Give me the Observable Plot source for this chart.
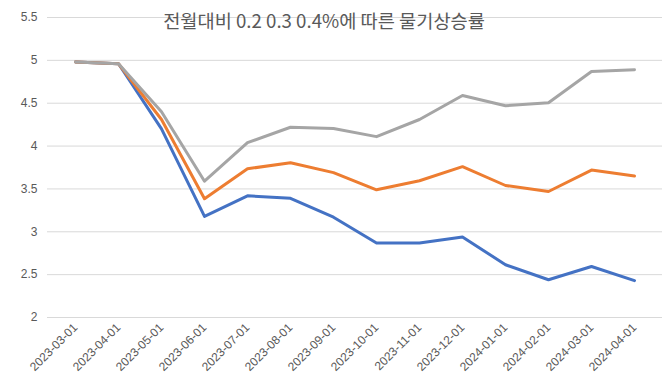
<!DOCTYPE html>
<html><head><meta charset="utf-8">
<script src="https://cdn.jsdelivr.net/npm/d3@7"></script>
<script src="https://cdn.jsdelivr.net/npm/@observablehq/plot@0.6"></script>
<style>body{margin:0;background:#fff;}</style>
</head><body><div id="chart"></div>
<script>
const title = "전월대비 0.2 0.3 0.4%에 따른 물기상승률";
const dates = ["2023-03-01","2023-04-01","2023-05-01","2023-06-01","2023-07-01","2023-08-01","2023-09-01","2023-10-01","2023-11-01","2023-12-01","2024-01-01","2024-02-01","2024-03-01","2024-04-01"];
const seriesNames = ["0.2%","0.3%","0.4%"];
const rate02 = [4.98,4.96,4.20,3.18,3.42,3.39,3.17,2.87,2.87,2.94,2.615,2.44,2.595,2.43];
const rate03 = [4.98,4.96,4.31,3.385,3.735,3.805,3.69,3.49,3.595,3.76,3.54,3.47,3.72,3.65];
const rate04 = [4.98,4.96,4.40,3.59,4.04,4.22,4.205,4.11,4.31,4.59,4.47,4.505,4.87,4.89];
const seriesColors = ["#4472C4","#ED7D31","#A5A5A5"];
const yTicks = [2,2.5,3,3.5,4,4.5,5,5.5];

const rows = [];
[rate02, rate03, rate04].forEach((arr, s) => arr.forEach((v, i) => rows.push({date: dates[i], value: v, series: seriesNames[s]})));

const chart = Plot.plot({
  width: 663, height: 384,
  marginLeft: 47, marginRight: 1, marginTop: 17, marginBottom: 67,
  style: {fontFamily: "'Liberation Sans', sans-serif", fontSize: "12px", color: "#595959", background: "#fff"},
  x: {type: "point", domain: dates, padding: 0.5, label: null},
  y: {domain: [2, 5.5], label: null},
  color: {domain: seriesNames, range: seriesColors},
  marks: [
    Plot.gridY(yTicks, {stroke: "#d9d9d9", strokeOpacity: 1}),
    Plot.axisY(yTicks, {tickSize: 0, tickPadding: 10, tickFormat: d => String(d), label: null, fontSize: 12}),
    Plot.axisX({tickRotate: -45, tickSize: 0, tickPadding: 8, label: null, fontSize: 12}),
    Plot.line(rows, {x: "date", y: "value", z: "series", stroke: "series", strokeWidth: 3, strokeLinejoin: "round", strokeLinecap: "round"}),
    Plot.text([title], {frameAnchor: "top", dy: 5, dx: -31, lineAnchor: "middle", fontSize: 18.67, fill: "#595959", fontFamily: "'Noto Sans CJK KR', sans-serif"})
  ]
});
document.getElementById("chart").append(chart);
</script>
</body></html>
